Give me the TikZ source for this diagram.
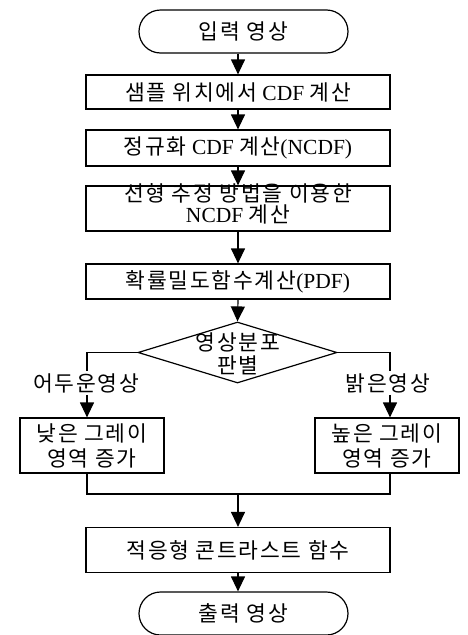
\documentclass[tikz,border=0pt]{standalone}
\usepackage{fontspec}
\setmainfont{Liberation Serif}
\newfontfamily\krfont{Noto Sans CJK KR}[LetterSpace=8]
\newcommand\K[1]{{\krfont #1}}
\usetikzlibrary{arrows.meta,shapes.geometric}
\begin{document}
\begin{tikzpicture}[x=1pt,y=-1pt,
  every node/.style={font=\fontsize{21.5}{24}\selectfont, inner sep=0pt},
  box/.style={draw, line width=1.2pt, minimum width=304pt, minimum height=35pt},
  sbox/.style={draw, line width=1.2pt, minimum width=144pt, minimum height=55pt, align=center, font=\fontsize{21.5}{25}\selectfont},
  term/.style={draw, line width=1.2pt, rounded corners=21.5pt, minimum width=209pt, minimum height=43pt},
  arr/.style={line width=1.2pt, -{Triangle[width=14pt,length=15pt]}},
  ln/.style={line width=1.2pt},
  lbl/.style={inner sep=2pt}
]
\useasboundingbox (0,0) rectangle (467,635);

\node[term] (start) at (243.5,31.5) {\K{입력 영상}};
\node[box, minimum height=34pt] (b1) at (238,92) {\K{샘플 위치에서} CDF \K{계산}};
\node[box, minimum height=36pt] (b2) at (238,148) {\K{정규화} CDF \K{계산}(NCDF)};
\node[box, minimum height=45pt] (b3) at (238,208.5) {};
\node[align=center, font=\fontsize{21.5}{21}\selectfont] (b3t) at (238,203.5) {\K{선형 추정 방법을 이용한}\\NCDF \K{계산}};
\node[box, minimum height=35pt] (b4) at (238,281.5) {\K{확률밀도함수계산}(PDF)};

\node[diamond, draw, line width=1.2pt, minimum width=199pt, minimum height=61pt] (dec) at (237.5,352.5) {};
\node[align=center, font=\fontsize{21.5}{23}\selectfont] (dect) at (238,353.5) {\K{영상분포}\\\K{판별}};

\node[lbl] (ldark) at (86,383) {\K{어두운영상}};
\node[lbl] (rlight) at (388,383) {\K{밝은영상}};

\node[sbox] (lbox) at (92,445.5) {\K{낮은 그레이}\\\K{영역 증가}};
\node[sbox] (rbox) at (387,445.5) {\K{높은 그레이}\\\K{영역 증가}};

\coordinate (merge) at (238,494);
\coordinate (lx) at (87,494);
\coordinate (rx) at (390,494);

\node[box, minimum height=45pt] (adapt) at (238,550) {\K{적응형 콘트라스트 함수}};
\node[term] (stop) at (243.5,613.5) {\K{출력 영상}};

\draw[arr] (start.south -| b1.north) -- (b1.north);
\draw[arr] (b1.south) -- (b2.north);
\draw[arr] (b2.south) -- (b3.north);
\draw[arr] (b3.south) -- (b4.north);
\draw[arr] (b4.south) -- (dec.north);

\draw[ln] (dec.west) -| (lx |- ldark.north);
\draw[ln] (dec.east) -| (rx |- rlight.north);
\draw[arr] (lx |- ldark.south) -- (lx |- lbox.north);
\draw[arr] (rx |- rlight.south) -- (rx |- rbox.north);

\draw[ln] (lx |- lbox.south) -- (lx) -- (rx) -- (rx |- rbox.south);
\draw[arr] (merge) -- (adapt.north);
\draw[arr] (adapt.south -| merge) -- (stop.north -| merge);
\end{tikzpicture}
\end{document}
